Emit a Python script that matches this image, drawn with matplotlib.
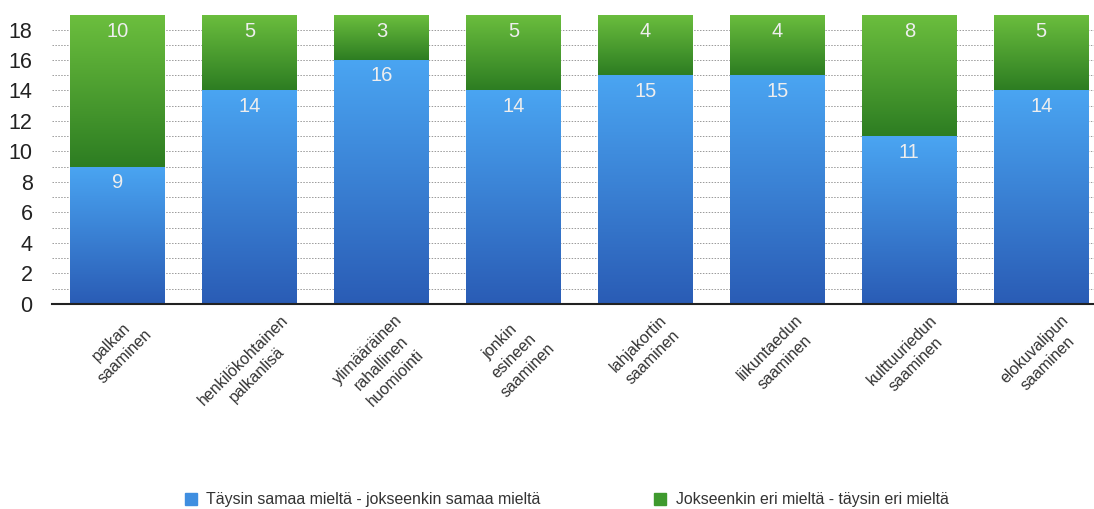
import numpy as np
import matplotlib.pyplot as plt
from matplotlib.colors import LinearSegmentedColormap
from matplotlib.patches import Patch

plt.rcParams['font.family'] = ['Liberation Sans', 'DejaVu Sans']

# data
categories = ['palkan\nsaaminen', 'henkilökohtainen\npalkanlisä',
              'ylimääräinen\nrahallinen\nhuomiointi', 'jonkin\nesineen\nsaaminen',
              'lahjakortin\nsaaminen', 'liikuntaedun\nsaaminen',
              'kulttuuriedun\nsaaminen', 'elokuvalipun\nsaaminen']
agree = [9, 14, 16, 14, 15, 15, 11, 14]
disagree = [10, 5, 3, 5, 4, 4, 8, 5]
series_names = ['Täysin samaa mieltä - jokseenkin samaa mieltä',
                'Jokseenkin eri mieltä - täysin eri mieltä']

blue_cmap = LinearSegmentedColormap.from_list('b', ['#2a5cb5', '#4aa5f2'])
green_cmap = LinearSegmentedColormap.from_list('g', ['#2d7d22', '#6cbf3e'])

fig = plt.figure(figsize=(10.94, 5.09), dpi=100)
ax = fig.add_axes([0.0475, 0.4028, 0.9525, 0.5677])

x = np.arange(len(categories))
w = 0.72
bars1 = ax.bar(x, agree, w, color='none')
bars2 = ax.bar(x, disagree, w, bottom=agree, color='none')

# gradient fill for every bar segment
grad = np.linspace(0, 1, 256).reshape(-1, 1)
for bars, cmap in [(bars1, blue_cmap), (bars2, green_cmap)]:
    for b in bars:
        x0, y0 = b.get_x(), b.get_y()
        ax.imshow(grad, cmap=cmap, aspect='auto', origin='lower',
                  extent=[x0, x0 + b.get_width(), y0, y0 + b.get_height()],
                  zorder=2)

# value labels near the top of each segment
for bars, vals in [(bars1, agree), (bars2, disagree)]:
    for b, v in zip(bars, vals):
        top = min(b.get_y() + b.get_height(), 18.95)
        ax.annotate(str(v), (b.get_x() + b.get_width() / 2, top),
                    xytext=(0, -16), textcoords='offset pixels',
                    ha='center', va='center', color='#eeeeee', fontsize=14.5, zorder=3)

ax.set_xlim(-0.5, 7.4)
ax.set_ylim(0, 18.95)
ax.set_yticks(range(0, 19, 2))
ax.set_yticks(range(0, 19), minor=True)
ax.tick_params(axis='y', which='both', length=0, labelsize=15.5, pad=14, labelcolor='#222222')
ax.yaxis.grid(True, which='both', linestyle=(0, (1.5, 1.5)), color='#999999', linewidth=0.7)
ax.set_axisbelow(True)

ax.set_xticks(x)
ax.set_xticklabels(categories, rotation=45, ha='center', va='top',
                   multialignment='center', fontsize=11.5, color='#333333',
                   linespacing=1.4)
ax.tick_params(axis='x', length=0, pad=6)

for s in ['top', 'right', 'left']:
    ax.spines[s].set_visible(False)
ax.spines['bottom'].set_color('#222222')
ax.spines['bottom'].set_linewidth(1.5)
ax.spines['bottom'].set_zorder(4)

handles = [Patch(color='#3f8ee0'), Patch(color='#3f9a2e')]
fig.legend(handles, series_names, loc='lower center', bbox_to_anchor=(0.518, -0.025),
           ncol=2, frameon=False, fontsize=11.4, handlelength=0.75, handleheight=0.75,
           columnspacing=7.2, handletextpad=0.6, labelcolor='#333333')

fig.savefig('out.png', dpi=100)
